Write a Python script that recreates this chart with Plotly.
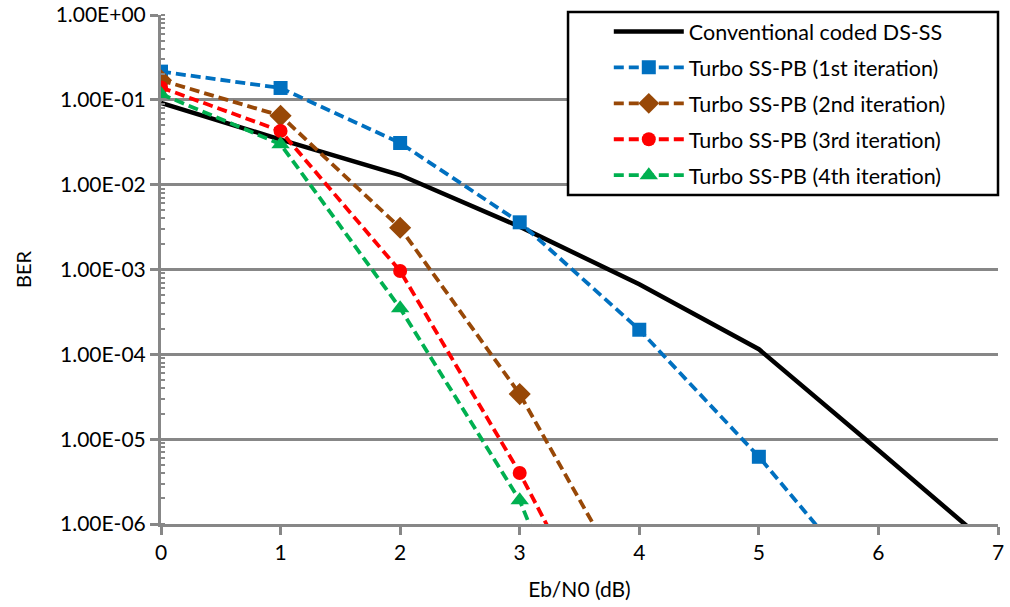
import plotly.graph_objects as go

x_conv = [0, 1, 2, 3, 4, 5, 6, 7]
ber_conv = [0.092, 0.034, 0.013, 0.0032, 6.7e-4, 1.15e-4, 7.4e-6, 4.6e-7]

x_it1 = [0, 1, 2, 3, 4, 5, 6]
ber_it1 = [0.215, 0.138, 0.031, 0.0036, 1.95e-4, 6.2e-6, 1.3e-7]

x_it2 = [0, 1, 2, 3, 4]
ber_it2 = [0.17, 0.065, 0.0031, 3.4e-5, 1.1e-7]

x_it3 = [0, 1, 2, 3, 4]
ber_it3 = [0.14, 0.043, 9.6e-4, 4.0e-6, 8e-9]

x_it4 = [0, 1, 2, 3, 4]
ber_it4 = [0.117, 0.030, 3.5e-4, 1.9e-6, 6e-10]

y_tickvals = [1, 1e-1, 1e-2, 1e-3, 1e-4, 1e-5, 1e-6]
y_ticktext = ["1.00E+00", "1.00E-01", "1.00E-02", "1.00E-03", "1.00E-04", "1.00E-05", "1.00E-06"]

FONT = "Lato"
GRAY = "#878787"

fig = go.Figure()
fig.add_trace(go.Scatter(x=x_conv, y=ber_conv, mode="lines", name="Conventional coded DS-SS",
                         line=dict(color="black", width=4.5), legendgroup="a"))
series = [
    (x_it1, ber_it1, "Turbo SS-PB (1st iteration)", "#0070C0", "square", 14),
    (x_it2, ber_it2, "Turbo SS-PB (2nd iteration)", "#984807", "diamond", 17),
    (x_it3, ber_it3, "Turbo SS-PB (3rd iteration)", "#FF0000", "circle", 14),
    (x_it4, ber_it4, "Turbo SS-PB (4th iteration)", "#00B050", "triangle-up", 16),
]
for i, (xs, ys, nm, col, sym, sz) in enumerate(series):
    fig.add_trace(go.Scatter(x=xs, y=ys, mode="lines+markers", name=nm,
                             line=dict(color=col, width=3.8, dash="10px,5px"),
                             marker=dict(symbol=sym, size=sz, color=col),
                             legendgroup=str(i), cliponaxis=True))

fig.add_shape(type="rect", xref="paper", yref="paper", x0=0.4863, x1=1.0, y0=0.6464, y1=1.006,
              line=dict(color="black", width=2.5), fillcolor="white", layer="above")

fig.update_layout(
    width=1010, height=607,
    margin=dict(l=161, r=12, t=15, b=83, autoexpand=False),
    plot_bgcolor="white", paper_bgcolor="white",
    font=dict(family=FONT, size=21, color="black"),
    showlegend=True,
    legend=dict(x=0.535, y=1.008, xanchor="left", yanchor="top", bgcolor="rgba(0,0,0,0)",
                borderwidth=0, font=dict(family=FONT, size=21.5), itemwidth=70,
                tracegroupgap=5),
    xaxis=dict(range=[0, 7], dtick=1, showgrid=False, showline=True, linecolor=GRAY, linewidth=3,
               ticks="outside", ticklen=8, tickwidth=3, tickcolor=GRAY, zeroline=False,
               automargin=False,
               title=dict(text="Eb/N0 (dB)", font=dict(size=21), standoff=20),
               tickfont=dict(size=21)),
    yaxis=dict(type="log", range=[-6, 0], tickmode="array", tickvals=y_tickvals, ticktext=y_ticktext,
               showgrid=True, gridcolor=GRAY, gridwidth=2.5, showline=True, linecolor=GRAY, linewidth=3,
               ticks="outside", ticklen=8, tickwidth=3, tickcolor=GRAY, zeroline=False,
               automargin=False,
               minor=dict(dtick="D1", ticks="inside", ticklen=4, tickwidth=2, tickcolor=GRAY, showgrid=False),
               title=dict(text="BER", font=dict(size=20), standoff=19),
               tickfont=dict(size=21)),
)
fig.write_html("out.html")
